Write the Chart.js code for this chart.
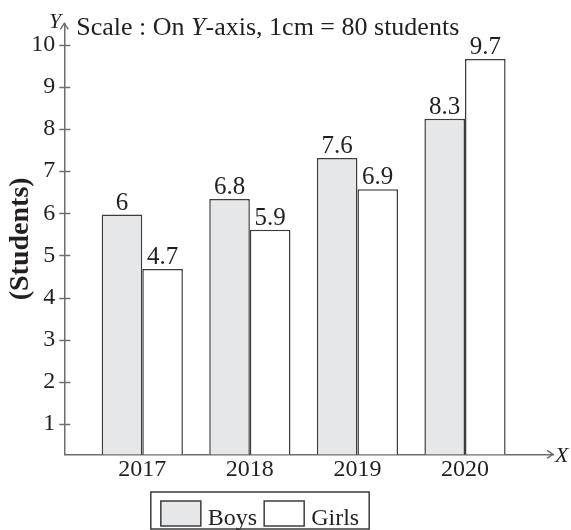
<!DOCTYPE html>
<html>
<head>
<meta charset="utf-8">
<script src="https://cdn.jsdelivr.net/npm/chart.js@4.4.0/dist/chart.umd.min.js"></script>
<style>
  html, body { margin: 0; padding: 0; background: #fff; }
</style>
</head>
<body>
<canvas id="myChart" width="571" height="530"></canvas>
<script>
const years = [2017, 2018, 2019, 2020];
const yTicks = [1, 2, 3, 4, 5, 6, 7, 8, 9, 10];
// bar heights as they are drawn
const boys = [5.97, 6.34, 7.31, 8.24];
const girls = [4.68, 5.61, 6.57, 9.66];
// numbers printed above the bars
const boysText = ['6', '6.8', '7.6', '8.3'];
const girlsText = ['4.7', '5.9', '6.9', '9.7'];
const seriesNames = ['Boys', 'Girls'];
const noteParts = [['Scale : On ', ''], ['Y', 'italic '], ['-axis, 1cm = 80 students', '']];

const ink = '#231f20';
const axisCol = '#6d6e71';
const edge = '#3c3c3c';
const serif = '"Liberation Serif", serif';

Chart.defaults.font.family = serif;
Chart.defaults.color = ink;

const barText = [boysText, girlsText];

// axis arrows, crossing tick marks, axis letters and scale note
const axesPlugin = {
  id: 'axes',
  afterDraw(chart) {
    const {ctx, chartArea: a} = chart;
    const y = chart.scales.y;
    ctx.save();
    ctx.strokeStyle = axisCol;
    ctx.lineWidth = 1.5;
    y.ticks.forEach(t => {
      const py = Math.round(y.getPixelForValue(t.value)) + 0.5;
      ctx.beginPath();
      ctx.moveTo(a.left - 5, py);
      ctx.lineTo(a.left + 6, py);
      ctx.stroke();
    });
    ctx.beginPath();
    ctx.moveTo(a.left - 4, a.top + 6);
    ctx.lineTo(a.left, a.top);
    ctx.lineTo(a.left + 4, a.top + 6);
    ctx.moveTo(a.right - 6, a.bottom - 4);
    ctx.lineTo(a.right, a.bottom);
    ctx.lineTo(a.right - 6, a.bottom + 4);
    ctx.stroke();

    ctx.fillStyle = ink;
    ctx.textBaseline = 'alphabetic';
    ctx.font = 'italic 22px ' + serif;
    ctx.textAlign = 'right';
    ctx.fillText('Y', a.left - 3, 28);
    ctx.textAlign = 'left';
    ctx.fillText('X', a.right + 2, a.bottom + 8);

    let x = a.left + 12;
    noteParts.forEach(([s, st]) => {
      ctx.font = st + '26px ' + serif;
      ctx.fillText(s, x, 35);
      x += ctx.measureText(s).width;
    });
    ctx.restore();
  }
};

// values over bars
const labelPlugin = {
  id: 'barLabels',
  afterDatasetsDraw(chart) {
    const ctx = chart.ctx;
    ctx.save();
    ctx.fillStyle = ink;
    ctx.font = '25px ' + serif;
    ctx.textAlign = 'center';
    ctx.textBaseline = 'alphabetic';
    chart.data.datasets.forEach((ds, i) => {
      chart.getDatasetMeta(i).data.forEach((bar, j) => {
        ctx.fillText(barText[i][j], bar.x, bar.y - 5);
      });
    });
    ctx.restore();
  }
};

// boxed legend under the axis
const legendPlugin = {
  id: 'boxLegend',
  afterDraw(chart) {
    const ctx = chart.ctx;
    const sw = 40, sh = 25, gap = 7, pad = 10;
    ctx.save();
    ctx.font = '24px ' + serif;
    const items = chart.data.datasets.map(ds => ({
      text: ds.label, fill: ds.backgroundColor, w: ctx.measureText(ds.label).width
    }));
    let total = pad * 2;
    items.forEach((it, i) => { total += sw + gap + it.w + (i ? gap : 0); });
    const left = 260 - total / 2, top = 492, h = 37;
    ctx.strokeStyle = edge;
    ctx.lineWidth = 1.5;
    ctx.strokeRect(left, top, total, h);
    let x = left + pad;
    items.forEach((it, i) => {
      if (i) x += gap;
      ctx.fillStyle = it.fill;
      ctx.fillRect(x, top + 9, sw, sh);
      ctx.strokeRect(x, top + 9, sw, sh);
      x += sw + gap;
      ctx.fillStyle = ink;
      ctx.textBaseline = 'alphabetic';
      ctx.fillText(it.text, x, top + 33);
      x += it.w;
    });
    ctx.restore();
  }
};

new Chart(document.getElementById('myChart'), {
  type: 'bar',
  data: {
    labels: years,
    datasets: [
      { label: seriesNames[0], data: boys, backgroundColor: '#e6e7e8', borderColor: edge, borderWidth: 1.5 },
      { label: seriesNames[1], data: girls, backgroundColor: '#ffffff', borderColor: edge, borderWidth: 1.5 }
    ]
  },
  options: {
    responsive: false,
    animation: false,
    categoryPercentage: 0.755,
    barPercentage: 1,
    layout: { padding: { top: 23, right: 18, bottom: 45.7, left: 0 } },
    plugins: { legend: { display: false }, tooltip: { enabled: false } },
    scales: {
      x: {
        type: 'linear',
        offset: false,
        min: 2016.275,
        max: 2020.818,
        afterBuildTicks: s => { s.ticks = years.map(v => ({ value: v })); },
        afterFit: s => { s.height = 30; },
        grid: { display: false, drawTicks: false, offset: false },
        border: { color: axisCol, width: 1.5 },
        ticks: { callback: v => String(v), font: { size: 24 }, color: ink, padding: 1, maxRotation: 0, autoSkip: false }
      },
      y: {
        min: 0.282,
        max: 10.505,
        afterBuildTicks: s => { s.ticks = yTicks.map(v => ({ value: v })); },
        afterFit: s => { s.width = 64.3; },
        grid: { display: false, drawTicks: false },
        border: { color: axisCol, width: 1.5 },
        ticks: { font: { size: 24 }, color: ink, padding: 9 },
        title: { display: true, text: '(Students)', font: { size: 28, weight: 'bold' }, color: ink, padding: { top: 4, bottom: 0 } }
      }
    }
  },
  plugins: [axesPlugin, labelPlugin, legendPlugin]
});
</script>
</body>
</html>
